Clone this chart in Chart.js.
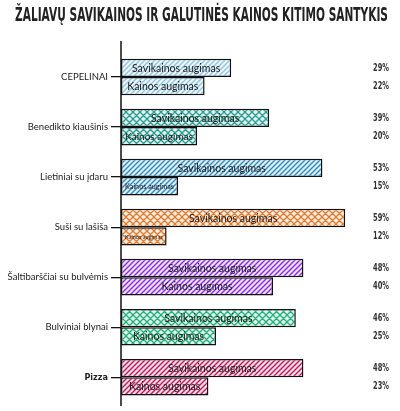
<!DOCTYPE html>
<html><head><meta charset="utf-8">
<script src="https://cdn.jsdelivr.net/npm/chart.js@4.4.1/dist/chart.umd.min.js"></script>
<style>html,body{margin:0;padding:0;background:#fff;} canvas{display:block;}</style>
</head><body>
<canvas id="c" width="400" height="411"></canvas>
<script>
const titleText = 'ŽALIAVŲ SAVIKAINOS IR GALUTINĖS KAINOS KITIMO SANTYKIS';
const categories = ['CEPELINAI','Benedikto kiaušinis','Lietiniai su įdaru','Suši su lašiša','Šaltibarščiai su bulvėmis','Bulviniai blynai','Pizza'];
const seriesNames = ['Savikainos augimas','Kainos augimas'];
const costGrowth = [29,39,53,59,48,46,48];
const priceGrowth = [22,20,15,12,40,25,23];
const categoryColors = ['#8cc6e0','#2a9d92','#2b8cc4','#e07b2e','#8a2be2','#22b07d','#c2185b'];
const categoryHatch = ['diag','cross','diag','cross','diag','cross','diag'];

const canvas = document.getElementById('c');
const mainCtx = canvas.getContext('2d');

function makePattern(color, kind){
  const s = kind === 'cross' ? 7 : 5;
  const c = document.createElement('canvas'); c.width = s; c.height = s;
  const x = c.getContext('2d');
  x.fillStyle = '#fff'; x.fillRect(0,0,s,s);
  x.globalAlpha = 0.14; x.fillStyle = color; x.fillRect(0,0,s,s); x.globalAlpha = 1;
  x.strokeStyle = color; x.lineWidth = kind === 'cross' ? 1.3 : 1.4;
  x.beginPath();
  x.moveTo(-1,1); x.lineTo(1,-1);
  x.moveTo(0,s); x.lineTo(s,0);
  x.moveTo(s-1,s+1); x.lineTo(s+1,s-1);
  if (kind === 'cross'){
    x.moveTo(0,0); x.lineTo(s,s);
    x.moveTo(-1,s-1); x.lineTo(1,s+1);
    x.moveTo(s-1,-1); x.lineTo(s+1,1);
  }
  x.stroke();
  return mainCtx.createPattern(c, 'repeat');
}
const patterns = categoryColors.map((col,i) => makePattern(col, categoryHatch[i]));

const handFont = "Lato, 'Open Sans', sans-serif";
const condFont = "'DejaVu Sans', sans-serif";

const decorPlugin = {
  id: 'decor',
  beforeDatasetsDraw(chart){
    const ctx = chart.ctx;
    const x = chart.chartArea.left;
    ctx.save();
    ctx.strokeStyle = '#111'; ctx.lineWidth = 1.5;
    ctx.beginPath(); ctx.moveTo(x, 41); ctx.lineTo(x, 406); ctx.stroke();
    ctx.restore();
  },
  afterDatasetsDraw(chart){
    const ctx = chart.ctx;
    ctx.save();
    chart.data.datasets.forEach((ds, di) => {
      const meta = chart.getDatasetMeta(di);
      meta.data.forEach((bar, i) => {
        const w = Math.abs(bar.x - bar.base);
        const base = 10.5;
        ctx.font = base + 'px ' + handFont;
        const tw = ctx.measureText(ds.label).width;
        let size = base;
        if (tw > w - 8) size = base * (w - 8) / tw;
        ctx.font = size + 'px ' + handFont;
        ctx.fillStyle = '#222';
        ctx.textAlign = 'center'; ctx.textBaseline = 'middle';
        ctx.fillText(ds.label, (bar.x + bar.base) / 2, bar.y + 0.5);
        // percentage label at right
        ctx.font = '600 11px ' + condFont;
        ctx.fillStyle = '#333';
        ctx.textAlign = 'right';
        ctx.fillText(ds.data[i] + '%', 389, bar.y, 16);
      });
    });
    ctx.restore();
  },
  afterDraw(chart){
    const ctx = chart.ctx;
    ctx.save();
    ctx.font = "bold 20px 'DejaVu Sans', sans-serif";
    ctx.fillStyle = '#222';
    ctx.textAlign = 'center'; ctx.textBaseline = 'alphabetic';
    ctx.fillText(titleText, 201.5, 21, 373);
    ctx.restore();
  }
};

new Chart(canvas, {
  type: 'bar',
  data: {
    labels: categories,
    datasets: [
      { label: seriesNames[0], data: costGrowth, backgroundColor: patterns, borderColor: '#111', borderWidth: 1.5, borderSkipped: false },
      { label: seriesNames[1], data: priceGrowth, backgroundColor: patterns, borderColor: '#111', borderWidth: 1.5, borderSkipped: false }
    ]
  },
  options: {
    indexAxis: 'y',
    responsive: false,
    animation: false,
    devicePixelRatio: 1,
    categoryPercentage: 0.733,
    barPercentage: 1.0,
    layout: { padding: { top: 52, bottom: 6, left: 0, right: 51 } },
    plugins: { legend: { display: false }, tooltip: { enabled: false }, title: { display: false } },
    scales: {
      x: { display: false, min: 0, max: 60 },
      y: {
        afterFit: (s) => { s.width = 121; },
        border: { display: false },
        grid: { display: true, drawOnChartArea: false, drawTicks: true, tickLength: 10, color: '#111', lineWidth: 1.3, offset: false },
        ticks: {
          padding: 3,
          color: '#222',
          font: (c) => c.index === 6 ? { family: "'DejaVu Sans Condensed', 'DejaVu Sans', sans-serif", size: 9, weight: 'bold' } : { family: handFont, size: 9.5 }
        }
      }
    }
  },
  plugins: [decorPlugin]
});
</script>
</body></html>
